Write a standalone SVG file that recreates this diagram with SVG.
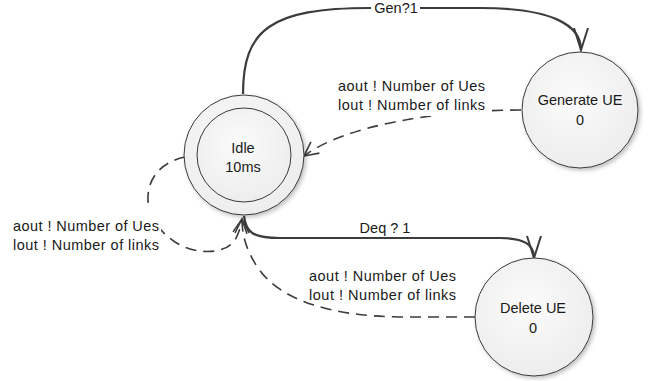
<svg xmlns="http://www.w3.org/2000/svg" width="649" height="381" viewBox="0 0 649 381">
<style>
text{font-family:"Liberation Sans",Arial,sans-serif;font-size:14.5px;fill:#1a1a1a}
.c{text-anchor:middle}
.st{fill:url(#g);stroke:#3a3a3a;stroke-width:1}
.solid{fill:none;stroke:#3c3c3c;stroke-width:2.2}
.dash{fill:none;stroke:#3c3c3c;stroke-width:1.6;stroke-dasharray:11 7}
.bg{fill:#fff}
</style>
<defs>
<radialGradient id="g" cx="0.45" cy="0.4" r="0.65">
<stop offset="0" stop-color="#fbfbfb"/>
<stop offset="1" stop-color="#ececec"/>
</radialGradient>
<filter id="sh" x="-20%" y="-20%" width="150%" height="150%">
<feDropShadow dx="2" dy="2" stdDeviation="2" flood-color="#000" flood-opacity="0.25"/>
</filter>
<marker id="big" markerUnits="userSpaceOnUse" viewBox="-1 -1 26 18" refX="22" refY="7" markerWidth="26" markerHeight="18" orient="auto">
<path d="M0,0 L22,7 L0,14" fill="none" stroke="#3c3c3c" stroke-width="2"/>
</marker>
<marker id="sm" markerUnits="userSpaceOnUse" viewBox="-1 -1 17 16" refX="14" refY="7" markerWidth="17" markerHeight="16" orient="auto">
<path d="M0,0 L14,7 L0,14" fill="none" stroke="#3c3c3c" stroke-width="1.6"/>
</marker>
</defs>
<rect width="649" height="381" fill="#fff"/>

<g id="connectors">
<path class="solid" d="M243,94 C243,30 270,8 370,8 L480,8 C552,8 581,25 581,50" marker-end="url(#big)"/>
<rect class="bg" x="371" y="0" width="49" height="16"/>
<text class="c" x="396" y="13">Gen?1</text>

<path class="dash" d="M521,110 C440,110 345,125 304,156" marker-end="url(#sm)"/>
<rect class="bg" x="334" y="77" width="155" height="39"/>
<text x="338" y="91" textLength="147" lengthAdjust="spacing">aout ! Number of Ues</text>
<text x="338" y="110" textLength="147" lengthAdjust="spacing">lout ! Number of links</text>

<path class="dash" d="M185,157 C160,162 147,180 148,200 C149,215 155,228 175,242 C195,255 225,255 235,240 C239,233 241,226 242,219" marker-end="url(#sm)"/>
<rect class="bg" x="10" y="207" width="151" height="48"/>
<text x="13" y="231" textLength="146" lengthAdjust="spacing">aout ! Number of Ues</text>
<text x="13" y="250" textLength="146" lengthAdjust="spacing">lout ! Number of links</text>

<path class="solid" d="M244,216 C246,232 252,238 280,238 L500,238 C525,238 534,245 534,258" marker-end="url(#big)"/>
<rect class="bg" x="357" y="220" width="55" height="16"/>
<text class="c" x="385" y="233">Deq ? 1</text>

<path class="dash" d="M475,317 L400,317 C330,316 280,300 258,268 C246,250 242,235 242,219" marker-end="url(#sm)"/>
<text x="309" y="281" textLength="147" lengthAdjust="spacing">aout ! Number of Ues</text>
<text x="309" y="300" textLength="147" lengthAdjust="spacing">lout ! Number of links</text>
</g>

<g id="idle">
<circle class="st" cx="244" cy="155" r="60" filter="url(#sh)"/>
<circle class="st" cx="244" cy="155" r="47"/>
<text class="c" x="243" y="153">Idle</text>
<text class="c" x="243" y="172">10ms</text>
</g>

<g id="generate">
<circle class="st" cx="580" cy="110" r="58" filter="url(#sh)"/>
<text class="c" x="580" y="105">Generate UE</text>
<text class="c" x="580" y="125">0</text>
</g>

<g id="delete">
<circle class="st" cx="534" cy="317" r="59" filter="url(#sh)"/>
<text class="c" x="533" y="313">Delete UE</text>
<text class="c" x="533" y="333">0</text>
</g>
</svg>
